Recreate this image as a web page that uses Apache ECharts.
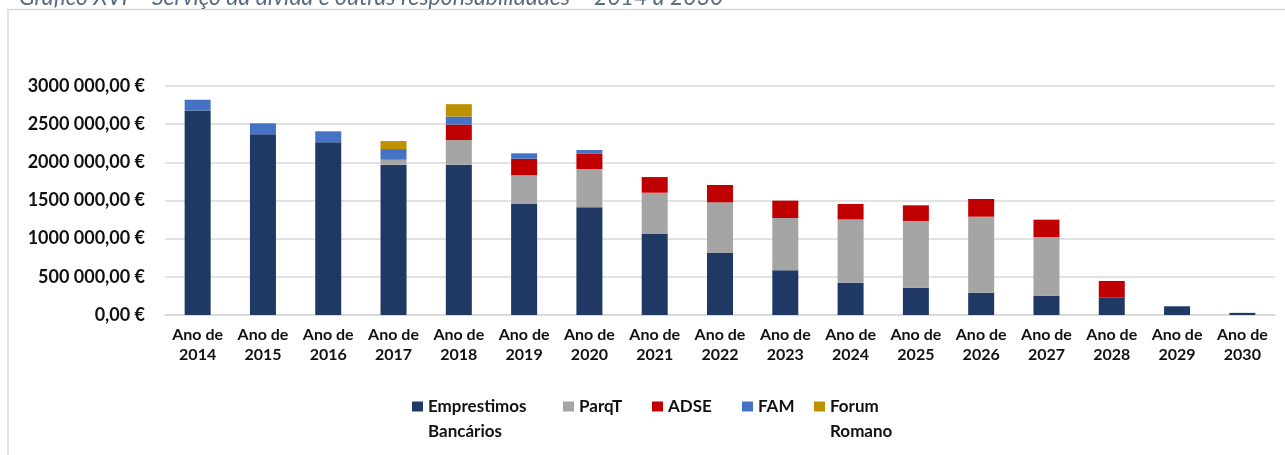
<!DOCTYPE html>
<html>
<head>
<meta charset="utf-8">
<script src="https://cdn.jsdelivr.net/npm/echarts@6/dist/echarts.min.js"></script>
<style>
html,body{margin:0;padding:0;background:#fff;}
#chart{width:1285px;height:455px;}
</style>
</head>
<body>
<div id="chart"></div>
<script>
const titleText = 'Gráfico XVI – Serviço da dívida e outras responsabilidades – 2014 a 2030';
const years = ['2014','2015','2016','2017','2018','2019','2020','2021','2022','2023','2024','2025','2026','2027','2028','2029','2030'];
const categories = years.map(y => 'Ano de\n' + y);
const seriesNames = ['Emprestimos\nBancários', 'ParqT', 'ADSE', 'FAM', 'Forum\nRomano'];
const emprestimos = [2680000, 2367000, 2262000, 1969000, 1969000, 1454000, 1411000, 1061000, 812000, 585000, 423000, 358000, 292000, 253000, 232000, 114000, 28000];
const parqT       = [0, 0, 0, 65000, 322000, 376000, 502000, 541000, 664000, 686000, 830000, 874000, 996000, 769000, 0, 0, 0];
const adse        = [0, 0, 0, 0, 204000, 217000, 200000, 205000, 227000, 227000, 201000, 205000, 232000, 227000, 214000, 0, 0];
const fam         = [140000, 144000, 144000, 140000, 105000, 71000, 48000, 0, 0, 0, 0, 0, 0, 0, 0, 0, 0];
const forum       = [0, 0, 0, 105000, 162000, 0, 0, 0, 0, 0, 0, 0, 0, 0, 0, 0, 0];
const yTickLabels = ['0,00 €', '500 000,00 €', '1000 000,00 €', '1500 000,00 €', '2000 000,00 €', '2500 000,00 €', '3000 000,00 €'];

const colors = ['#1f3864', '#a5a5a5', '#c00000', '#4472c4', '#bf9000'];
const seriesData = [emprestimos, parqT, adse, fam, forum];
const legendLeft = [412, 563, 652, 742, 814];

const FONT = 'Lato';
const chart = echarts.init(document.getElementById('chart'), null, {renderer: 'canvas'});

const legends = seriesNames.map((name, i) => {
  const twoLines = name.indexOf('\n') >= 0;
  return {
    data: [name],
    left: legendLeft[i],
    top: twoLines ? 369 : 394,
    padding: 0,
    itemWidth: 11,
    itemHeight: 10,
    itemGap: 0,
    icon: 'rect',
    selectedMode: false,
    formatter: n => (n.indexOf('\n') >= 0 ? ' \n' + n : n),
    textStyle: {
      fontFamily: FONT, fontWeight: 'bold', fontSize: 17, color: '#111',
      lineHeight: 25
    }
  };
});

chart.setOption({
  animation: false,
  backgroundColor: '#fff',
  color: colors,
  graphic: [
    {type: 'rect', shape: {x: 8, y: 9.5, width: 1400, height: 600}, style: {fill: 'none', stroke: '#d9d9d9', lineWidth: 1.5}, silent: true},
    {type: 'text', left: 19, top: -14, style: {text: titleText, font: 'italic 23px Lato', fill: '#5a6a82'}, silent: true}
  ],
  legend: legends,
  grid: {left: 165, right: 10, top: 86, bottom: 140, containLabel: false},
  xAxis: {
    type: 'category',
    data: categories,
    axisLine: {lineStyle: {color: '#d9d9d9', width: 1.5}},
    axisTick: {show: false},
    axisLabel: {fontFamily: FONT, fontWeight: 'bold', fontSize: 16, color: '#111', lineHeight: 20, margin: 10, interval: 0}
  },
  yAxis: {
    type: 'value',
    min: 0, max: 3000000, interval: 500000,
    axisLine: {show: false},
    axisTick: {show: false},
    splitLine: {lineStyle: {color: '#d9d9d9', width: 1.5}},
    axisLabel: {
      fontFamily: FONT, fontWeight: 'bold', fontSize: 18, color: '#111', margin: 20,
      formatter: v => yTickLabels[Math.round(v / 500000)]
    }
  },
  series: seriesNames.map((name, i) => ({
    name: name,
    type: 'bar',
    stack: 'total',
    barWidth: 26,
    data: seriesData[i],
    itemStyle: {color: colors[i]}
  }))
});
</script>
</body>
</html>
